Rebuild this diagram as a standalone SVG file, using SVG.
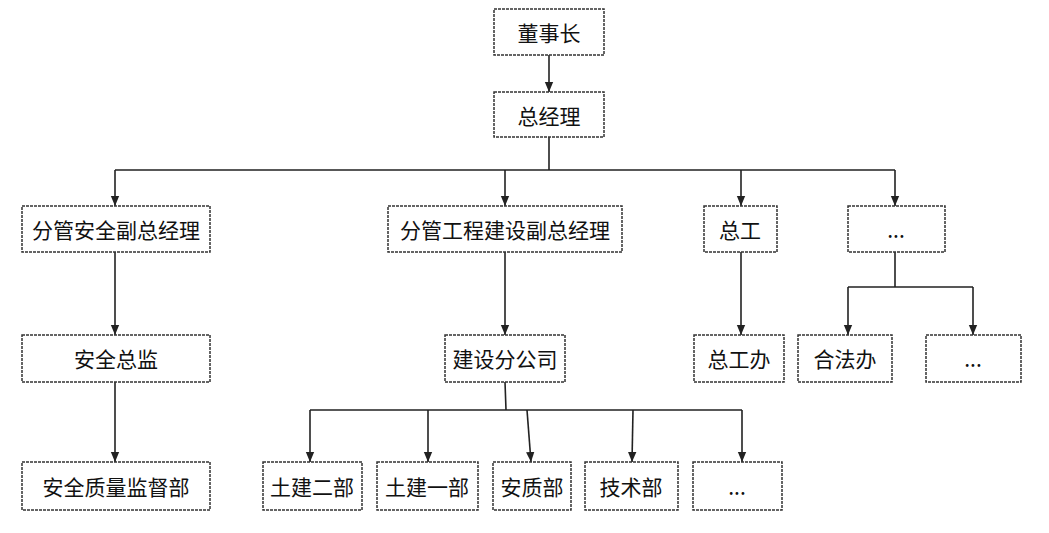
<svg xmlns="http://www.w3.org/2000/svg" width="1049" height="533" viewBox="0 0 1049 533">
<style>
.b{fill:#fff;stroke:#333;stroke-width:1.5;stroke-dasharray:3 1}
.t{font-family:"Noto Sans CJK SC","Liberation Sans",sans-serif;font-size:21px;fill:#111;text-anchor:middle;dominant-baseline:central}
.c{fill:none;stroke:#222;stroke-width:1.6}
</style>
<defs><marker id="a" markerWidth="10" markerHeight="12" refX="5" refY="12" orient="auto-start-reverse" markerUnits="userSpaceOnUse" viewBox="0 0 10 12"><path d="M0,0 L10,0 L5,12 Z" fill="#222" transform="rotate(0)"/></marker>
<marker id="m" markerWidth="10" markerHeight="14" refX="12" refY="5" orient="auto" markerUnits="userSpaceOnUse" viewBox="0 0 12 10"><path d="M0,0 L12,5 L0,10 Z" fill="#222"/></marker></defs>
<rect width="1049" height="533" fill="#fff"/>
<g id="connectors">
<path class="c" d="M549 55V92" marker-end="url(#m)"/>
<path class="c" d="M549 137V170M115 170H895"/>
<path class="c" d="M115 170V206" marker-end="url(#m)"/>
<path class="c" d="M505 170V206" marker-end="url(#m)"/>
<path class="c" d="M741 170V206" marker-end="url(#m)"/>
<path class="c" d="M895 170V206" marker-end="url(#m)"/>
<path class="c" d="M115 252V335" marker-end="url(#m)"/>
<path class="c" d="M505 252V335" marker-end="url(#m)"/>
<path class="c" d="M741 252V335" marker-end="url(#m)"/>
<path class="c" d="M895 252V287M848 287H973"/>
<path class="c" d="M848 287V335" marker-end="url(#m)"/>
<path class="c" d="M973 287V335" marker-end="url(#m)"/>
<path class="c" d="M115 382V462" marker-end="url(#m)"/>
<path class="c" d="M505 382L506 410M310 410H742"/>
<path class="c" d="M310 410V462" marker-end="url(#m)"/>
<path class="c" d="M428 410V462" marker-end="url(#m)"/>
<path class="c" d="M527 410L531 462" marker-end="url(#m)"/>
<path class="c" d="M633 410L632 462" marker-end="url(#m)"/>
<path class="c" d="M742 410V462" marker-end="url(#m)"/>
</g>
<g id="n1"><rect class="b" x="494" y="9" width="110" height="46"/><text class="t" x="549" y="32">董事长</text></g>
<g id="n2"><rect class="b" x="494" y="92" width="110" height="45"/><text class="t" x="549" y="115">总经理</text></g>
<g id="n3"><rect class="b" x="22" y="206" width="188" height="46"/><text class="t" x="116" y="229">分管安全副总经理</text></g>
<g id="n4"><rect class="b" x="388" y="206" width="234" height="46"/><text class="t" x="505" y="229">分管工程建设副总经理</text></g>
<g id="n5"><rect class="b" x="704" y="206" width="73" height="46"/><text class="t" x="740" y="229">总工</text></g>
<g id="n6"><rect class="b" x="848" y="206" width="97" height="46"/><text class="t" x="896" y="229">...</text></g>
<g id="n7"><rect class="b" x="22" y="335" width="188" height="47"/><text class="t" x="116" y="358">安全总监</text></g>
<g id="n8"><rect class="b" x="445" y="335" width="120" height="47"/><text class="t" x="505" y="358">建设分公司</text></g>
<g id="n9"><rect class="b" x="694" y="335" width="90" height="47"/><text class="t" x="739" y="358">总工办</text></g>
<g id="n10"><rect class="b" x="798" y="335" width="94" height="47"/><text class="t" x="845" y="358">合法办</text></g>
<g id="n11"><rect class="b" x="926" y="335" width="95" height="47"/><text class="t" x="973" y="358">...</text></g>
<g id="n12"><rect class="b" x="22" y="462" width="188" height="48"/><text class="t" x="116" y="486">安全质量监督部</text></g>
<g id="n13"><rect class="b" x="263" y="462" width="99" height="48"/><text class="t" x="312" y="486">土建二部</text></g>
<g id="n14"><rect class="b" x="377" y="462" width="101" height="48"/><text class="t" x="427" y="486">土建一部</text></g>
<g id="n15"><rect class="b" x="493" y="462" width="78" height="48"/><text class="t" x="532" y="486">安质部</text></g>
<g id="n16"><rect class="b" x="585" y="462" width="93" height="48"/><text class="t" x="631" y="486">技术部</text></g>
<g id="n17"><rect class="b" x="693" y="462" width="89" height="48"/><text class="t" x="737" y="486">...</text></g>
</svg>
